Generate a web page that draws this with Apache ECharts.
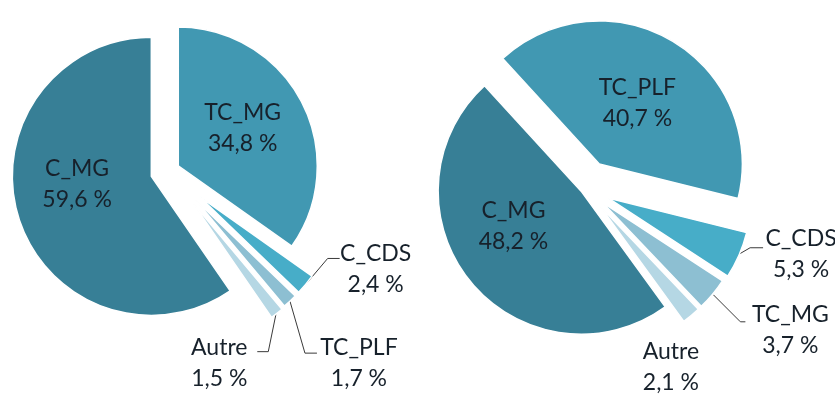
<!DOCTYPE html>
<html><head><meta charset="utf-8">
<script src="https://cdn.jsdelivr.net/npm/echarts@6/dist/echarts.min.js"></script>
<style>html,body{margin:0;padding:0;background:#fff}#c{width:835px;height:394px}</style>
</head><body><div id="c"></div>
<script>
// ---- data ----
const leftNames = ['TC_MG', 'C_CDS', 'TC_PLF', 'Autre', 'C_MG'];
const leftValues = [34.8, 2.4, 1.7, 1.5, 59.6];
const rightNames = ['TC_PLF', 'C_CDS', 'TC_MG', 'Autre', 'C_MG'];
const rightValues = [40.7, 5.3, 3.7, 2.1, 48.2];

// ---- styles / layout config ----
const sliceColors = ['#4198b2', '#47adc8', '#8dbfd2', '#b5d7e4', '#377f96'];
const textColor = '#17212b';
const fontFamily = 'Lato, "Open Sans", sans-serif';
const fontSize = 23;
const lineHeight = 31;
const pies = [
  { names: leftNames, values: leftValues, center: [168.5, 171], radius: 139, startAngle: 90,
    explode: [11, 39, 39, 40, 18], labelRadius: 178,
    // inside label nudges: [left padding, right padding, shift down]
    inside: { 0: [0, 0, -5], 4: [0, 10, -14] },
    outside: {
      1: { line: [[22, -26], [34, -26]], text: [70, -15] },
      2: { line: [[15, 52], [27, 52]], text: [69, 62] },
      3: { line: [[-8, 39], [-19, 39]], text: [-57, 50] }
    } },
  { names: rightNames, values: rightValues, center: [585, 188], radius: 143, startAngle: 132.5,
    explode: [28, 25, 23, 23, 5], labelRadius: 167,
    inside: { 0: [0, 0, 3], 4: [0, 20, -12] },
    outside: {
      1: { line: [[12, -7], [25, -7]], text: [63, -1] },
      2: { line: [[27, 27], [32, 27]], text: [77, 35] },
      3: { line: null, text: [-21, 51] }
    } }
];

function valText(v) { return v.toFixed(1).replace('.', ',') + ' %'; }
function fmt(name, v) { return name + '\n' + valText(v); }
function insideFmt(name, v, nudge) {
  let s = '{t|' + name + '}\n{t|' + valText(v) + '}';
  if (nudge[2] < 0) s = s + '\n{s| }';
  if (nudge[2] > 0) s = '{s| }\n' + s;
  return s;
}

const series = [];
pies.forEach(function (p) {
  p.names.forEach(function (nm, idx) {
    const nudge = p.inside[idx];
    series.push({
      type: 'pie', center: p.center, radius: p.radius, startAngle: p.startAngle, clockwise: true,
      selectedMode: 'multiple', selectedOffset: p.explode[idx], animation: false, silent: true,
      avoidLabelOverlap: false, emphasis: { disabled: true },
      labelLine: { show: false },
      data: p.names.map(function (n, i) {
        const on = i === idx;
        const st = on ? { color: sliceColors[i], borderColor: '#ffffff', borderWidth: 1.5 }
                      : { color: 'rgba(0,0,0,0)', borderWidth: 0 };
        return {
          name: n, value: p.values[i], selected: on,
          itemStyle: st,
          select: { itemStyle: st },
          label: (on && nudge) ? {
            show: true, position: 'inside', formatter: insideFmt(n, p.values[i], nudge), align: 'center',
            rich: {
              t: { fontFamily: fontFamily, fontSize: fontSize, lineHeight: lineHeight, color: textColor, align: 'center',
                   padding: [0, nudge[1], 0, nudge[0]] },
              s: { fontSize: 1, lineHeight: Math.abs(2 * nudge[2]), height: Math.abs(2 * nudge[2]) }
            }
          } : { show: false }
        };
      })
    });
  });
  // overlay carrying the outside labels of the small slices
  series.push({
    type: 'pie', center: p.center, radius: p.labelRadius, startAngle: p.startAngle, clockwise: true,
    animation: false, silent: true, avoidLabelOverlap: false, emphasis: { disabled: true },
    itemStyle: { color: 'rgba(0,0,0,0)', borderWidth: 0 },
    label: { show: false },
    labelLine: { show: false },
    data: p.names.map(function (n, i) {
      const o = p.outside[i];
      return {
        name: n, value: p.values[i],
        label: o ? { show: true, position: 'outside', formatter: fmt(n, p.values[i]),
          fontFamily: fontFamily, fontSize: fontSize, lineHeight: lineHeight, color: textColor, align: 'center' } : { show: false },
        labelLine: (o && o.line) ? { show: true, length: 10, length2: 10, lineStyle: { color: '#3a3a3a', width: 1 } } : { show: false }
      };
    }),
    labelLayout: function (params) {
      const o = p.outside[params.dataIndex];
      if (!o) return {};
      const pts = params.labelLinePoints;
      let a;
      if (pts) {
        a = pts[0];
      } else {
        const tot = p.values.reduce(function (s, v) { return s + v; }, 0);
        let acc = 0;
        for (let k = 0; k < params.dataIndex; k++) acc += p.values[k];
        const mid = (p.startAngle - (acc + p.values[params.dataIndex] / 2) / tot * 360) * Math.PI / 180;
        a = [p.center[0] + p.labelRadius * Math.cos(mid), p.center[1] - p.labelRadius * Math.sin(mid)];
      }
      const res = { x: a[0] + o.text[0], y: a[1] + o.text[1], align: 'center', verticalAlign: 'middle' };
      if (o.line) {
        res.labelLinePoints = [[a[0], a[1]], [a[0] + o.line[0][0], a[1] + o.line[0][1]], [a[0] + o.line[1][0], a[1] + o.line[1][1]]];
      }
      return res;
    }
  });
});

const chart = echarts.init(document.getElementById('c'), null, { renderer: 'canvas' });
chart.setOption({ backgroundColor: '#ffffff', animation: false, series: series });
</script></body></html>
